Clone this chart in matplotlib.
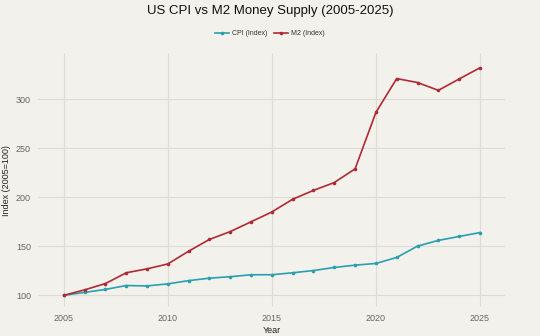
import numpy as np
from matplotlib import pyplot as plt

years = list(range(2005, 2026))
cpi = [100, 103, 106, 110, 109.6, 111.7, 115, 117.5, 119, 121, 121, 123,
       125.3, 128.4, 130.8, 132.5, 138.6, 150.2, 156, 160, 164]
m2 = [100, 105.6, 112, 123, 127, 132, 145, 157, 165, 175, 185, 198,
      207, 215, 229, 286.5, 321, 317, 309, 320.6, 332]
yticks = [100, 150, 200, 250, 300]
xticks = [2005, 2010, 2015, 2020, 2025]

plt.rcParams['font.family'] = ['Liberation Sans', 'DejaVu Sans']
bg = '#f2f1ec'

fig = plt.figure(figsize=(5.4, 3.36), dpi=100, facecolor=bg)
ax = fig.add_axes([0.070, 0.086, 0.865, 0.756], facecolor=bg)

ax.plot(years, cpi, color='#2a9fb0', lw=1.2, marker='o', ms=1.6, label='CPI (Index)')
ax.plot(years, m2, color='#b02a33', lw=1.2, marker='o', ms=1.6, label='M2 (Index)')

ax.set_xlim(2003.75, 2026.2)
ax.set_ylim(88, 347)
ax.set_xticks(xticks)
ax.set_yticks(yticks)
ax.grid(color='#dcdcd8', lw=0.8)
ax.set_axisbelow(True)
for s in ax.spines.values():
    s.set_visible(False)
ax.tick_params(length=0, labelsize=6.5, labelcolor='#666666', pad=5)

ax.set_ylabel('Index (2005=100)', fontsize=6.5, color='#222222')
ax.yaxis.set_label_coords(-0.058, 0.5)
ax.set_xlabel('Year', fontsize=6.5, color='#222222')
ax.xaxis.set_label_coords(0.5, -0.075)

fig.suptitle('US CPI vs M2 Money Supply (2005-2025)', x=0.5, y=0.985, fontsize=9.5, color='#111111')
fig.legend(loc='center', bbox_to_anchor=(0.5, 0.9), ncol=2, frameon=False,
           fontsize=5, handlelength=2, columnspacing=1, handletextpad=0.4,
           labelcolor='#333333')

plt.savefig('out.png', dpi=100, facecolor=bg)
